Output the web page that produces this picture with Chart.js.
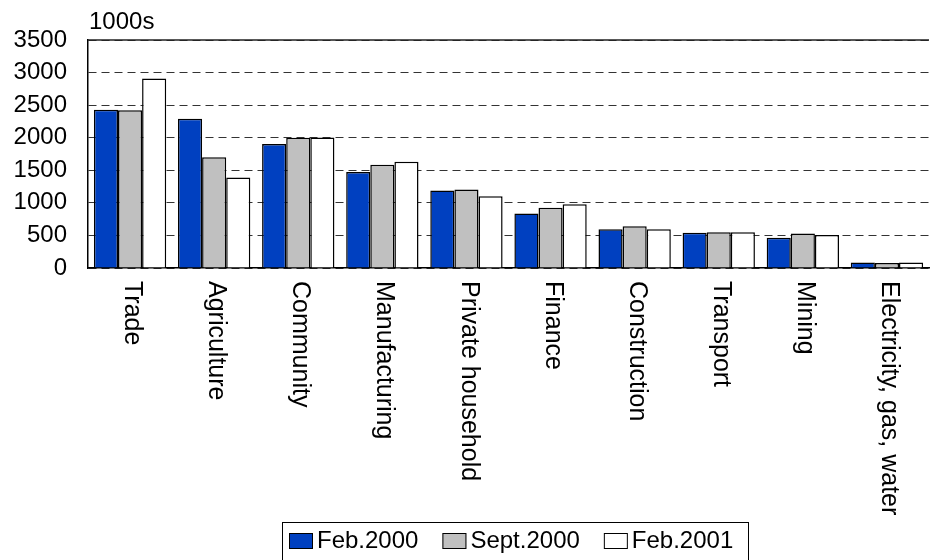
<!DOCTYPE html>
<html>
    <head>
        <title>Employment by sector</title>
        <script src="https://cdn.jsdelivr.net/npm/chart.js@4.4.1/dist/chart.umd.min.js">
        </script>
        <style>
            body { margin: 0; background: #fff; }
            #wrap { width: 931px; height: 560px; }
        </style>
    </head>
    <body>
        <div id="wrap"><canvas id="myChart" width="931" height="560"></canvas></div>

        <script>
            // data (1000s)
            const sectors = ['Trade', 'Agriculture', 'Community', 'Manufacturing', 'Private household',
                'Finance', 'Construction', 'Transport', 'Mining', 'Electricity, gas, water'];
            const feb2000 = [2430, 2290, 1905, 1475, 1190, 835, 595, 540, 465, 85];
            const sept2000 = [2420, 1700, 2000, 1585, 1205, 925, 640, 550, 530, 75];
            const feb2001 = [2910, 1390, 2005, 1630, 1100, 980, 595, 550, 505, 85];
            const yTicks = [0, 500, 1000, 1500, 2000, 2500, 3000, 3500];
            const seriesNames = ['Feb.2000', 'Sept.2000', 'Feb.2001'];

            const FONT = 'Liberation Sans, Arial, sans-serif';

            // labels under bars, turned to read top to bottom, plus the unit text and the legend box
            const extras = {
                id: 'extras',
                afterDraw(chart) {
                    const ctx = chart.ctx;
                    const xs = chart.scales.x;
                    const area = chart.chartArea;
                    ctx.save();
                    ctx.fillStyle = '#000';
                    ctx.font = '24px ' + FONT;

                    // solid top line
                    ctx.strokeStyle = '#222';
                    ctx.lineWidth = 1.5;
                    ctx.beginPath();
                    ctx.moveTo(area.left, area.top);
                    ctx.lineTo(area.right, area.top);
                    ctx.stroke();

                    // unit
                    ctx.textAlign = 'left';
                    ctx.textBaseline = 'alphabetic';
                    ctx.fillText('1000s', area.left + 1, 29);

                    // category labels
                    ctx.font = '25px ' + FONT;
                    ctx.textBaseline = 'middle';
                    for (let i = 0; i < sectors.length; i++) {
                        ctx.save();
                        ctx.translate(xs.getPixelForValue(i) + 2, area.bottom + 13);
                        ctx.rotate(Math.PI / 2);
                        ctx.fillText(sectors[i], 0, 0);
                        ctx.restore();
                    }

                    // legend
                    ctx.font = '24px ' + FONT;
                    ctx.strokeStyle = '#000';
                    ctx.lineWidth = 1;
                    ctx.strokeRect(282.5, 522.5, 466, 50);
                    let x = 289;
                    chart.data.datasets.forEach(function(ds) {
                        ctx.fillStyle = ds.backgroundColor;
                        ctx.fillRect(x, 533, 24, 16);
                        ctx.strokeStyle = '#000';
                        ctx.strokeRect(x + 0.5, 533.5, 23, 15);
                        ctx.fillStyle = '#000';
                        ctx.textBaseline = 'middle';
                        ctx.fillText(ds.label, x + 28, 541);
                        x += 28 + ctx.measureText(ds.label).width + 24;
                    });
                    ctx.restore();
                }
            };

            const ctx = document.getElementById('myChart');
            const myChart = new Chart(ctx, {
                type: 'bar',
                data: {
                    labels: sectors,
                    datasets: [
                        { label: seriesNames[0], data: feb2000, backgroundColor: '#0040c0' },
                        { label: seriesNames[1], data: sept2000, backgroundColor: '#c0c0c0' },
                        { label: seriesNames[2], data: feb2001, backgroundColor: '#ffffff' }
                    ]
                },
                options: {
                    responsive: false,
                    animation: false,
                    devicePixelRatio: 1,
                    layout: { padding: { top: 40, right: 2, left: 0, bottom: 0 } },
                    datasets: {
                        bar: {
                            borderColor: '#000',
                            borderWidth: 1.5,
                            categoryPercentage: 0.86,
                            barPercentage: 1.0
                        }
                    },
                    plugins: {
                        legend: { display: false },
                        tooltip: { enabled: false }
                    },
                    scales: {
                        x: {
                            grid: { display: false },
                            border: { display: true, color: '#000', width: 1.5 },
                            ticks: { display: false },
                            afterFit: function(scale) { scale.height = 560 - 268; }
                        },
                        y: {
                            min: 0,
                            max: 3500,
                            afterBuildTicks: function(scale) {
                                scale.ticks = yTicks.map(function(v) { return { value: v }; });
                            },
                            afterFit: function(scale) { scale.width = 88; },
                            grid: {
                                color: '#333',
                                lineWidth: 1,
                                drawTicks: false
                            },
                            border: { display: true, color: '#000', width: 1.5, dash: [8, 5] },
                            ticks: {
                                padding: 21,
                                color: '#000',
                                font: { family: FONT, size: 24 },
                                callback: function(v) { return String(v); }
                            }
                        }
                    }
                },
                plugins: [extras]
            });
        </script>
    </body>
</html>
